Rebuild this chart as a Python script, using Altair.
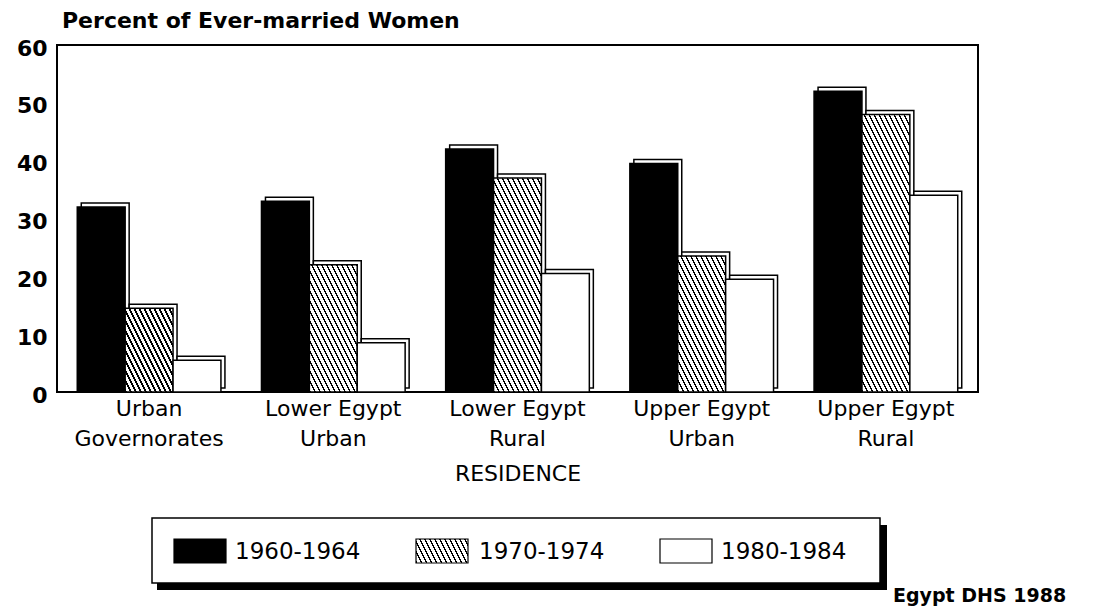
import altair as alt
import pandas as pd

# ---------------- data ----------------
categories = ["Urban|Governorates", "Lower Egypt|Urban", "Lower Egypt|Rural",
              "Upper Egypt|Urban", "Upper Egypt|Rural"]
series = ["1960-1964", "1970-1974", "1980-1984"]
v1960 = [32, 33, 42, 39.5, 52]
v1970 = [14.5, 22, 37, 23.5, 48]
v1980 = [5.5, 8.5, 20.5, 19.5, 34]
y_ticks = [0, 10, 20, 30, 40, 50, 60]
title_text = "Percent of Ever-married Women"
x_title = "RESIDENCE"
source_text = "Egypt DHS 1988"

rows = []
for s, vals in zip(series, [v1960, v1970, v1980]):
    for c, v in zip(categories, vals):
        rows.append({"category": c, "period": s, "value": v})
df = pd.DataFrame(rows)

# ---------------- layout ----------------
W, H = 921, 347
PI, PO = 0.22, 0.11
step = W / (len(categories) - PI + 2 * PO)
bw = step * (1 - PI)
barw = bw / 3
LIP = 4
FONT = "DejaVu Sans"


def hatch(w, h, period=5.0, frac=0.33, slope=0.5):
    L = w + slope * h
    lam = L / (w * w + (slope * h) ** 2)
    x2 = w * lam
    y2 = 1 - slope * h * lam
    n = L / period
    stops = []
    k = 0
    while k / n < 1:
        a = k / n
        b = min((k + frac) / n, 1)
        c = min((k + 1) / n, 1)
        stops += [{"offset": a, "color": "black"}, {"offset": b, "color": "black"},
                  {"offset": b, "color": "white"}, {"offset": c, "color": "white"}]
        k += 1
    return {"gradient": "linear", "x1": 0, "y1": 1, "x2": x2, "y2": y2, "stops": stops}


conds = [{"test": f"datum.period == '{series[0]}'", "value": "black"}]
for c, v in zip(categories, v1970):
    conds.append({"test": f"datum.period == '{series[1]}' && datum.category == '{c}'",
                  "value": hatch(barw, v * H / 60.0)})

x_enc = alt.X("category:N", sort=categories,
              scale=alt.Scale(paddingInner=PI, paddingOuter=PO),
              axis=alt.Axis(labelExpr="split(datum.label, '|')", labelAngle=0,
                            labelFont=FONT, labelFontSize=22, labelLineHeight=30,
                            labelPadding=6, labelColor="black",
                            ticks=False, domain=False, grid=False,
                            title=x_title, titleFont=FONT, titleFontSize=22,
                            titleFontWeight="normal", titleColor="black",
                            titlePadding=14))
y_enc = alt.Y("value:Q", scale=alt.Scale(domain=[0, 60], nice=False),
              axis=alt.Axis(values=y_ticks, labelFont=FONT, labelFontSize=22,
                            labelFontWeight="bold", labelColor="black",
                            labelPadding=10, labelOffset=3,
                            ticks=False, domain=False, grid=False, title=None))

base = alt.Chart(df).encode(x=x_enc, y=y_enc)

back = base.mark_bar(fill="white", stroke="black", strokeWidth=1.5,
                     yOffset=-LIP).encode(
    xOffset=alt.XOffset("period:N", sort=series,
                        scale=alt.Scale(range=[LIP, LIP + bw], paddingInner=0,
                                        paddingOuter=0)))

front = base.mark_bar(stroke="black", strokeWidth=1.5).encode(
    xOffset=alt.XOffset("period:N", sort=series,
                        scale=alt.Scale(range=[0, bw], paddingInner=0,
                                        paddingOuter=0)),
    fill=alt.FillValue(value="white", condition=conds))

one = pd.DataFrame({"k": [0]})

title_layer = alt.Chart(one).mark_text(
    text=title_text, font=FONT, fontSize=22, fontWeight="bold",
    align="left", baseline="middle", color="black").encode(
    x=alt.value(5), y=alt.value(-24))

source_layer = alt.Chart(one).mark_text(
    text=source_text, font=FONT, fontSize=19, fontWeight="bold",
    align="left", baseline="middle", color="black").encode(
    x=alt.value(836), y=alt.value(551))

shadow = alt.Chart(one).mark_rect(fill="black").encode(
    x=alt.value(100), x2=alt.value(830), y=alt.value(480), y2=alt.value(545))
box = alt.Chart(one).mark_rect(fill="white", stroke="black", strokeWidth=1.5).encode(
    x=alt.value(95), x2=alt.value(823), y=alt.value(473), y2=alt.value(538))

legend_layers = []
sym_x = [117, 359, 603]
txt_x = [178, 422, 664]
sym_fill = ["black", hatch(52, 24), "white"]
for s, sx, tx, f in zip(series, sym_x, txt_x, sym_fill):
    legend_layers.append(alt.Chart(one).mark_rect(fill=f, stroke="black", strokeWidth=1.2).encode(
        x=alt.value(sx), x2=alt.value(sx + 52), y=alt.value(494), y2=alt.value(518)))
    legend_layers.append(alt.Chart(one).mark_text(
        text=s, font=FONT, fontSize=23, align="left", baseline="middle",
        color="black").encode(x=alt.value(tx), y=alt.value(507)))

chart = alt.layer(back, front, title_layer, source_layer, shadow, box, *legend_layers).resolve_scale(
    xOffset="independent"
).properties(
    width=W, height=H,
    autosize=alt.AutoSizeParams(type="none"),
    padding={"left": 49, "top": 37, "right": 110, "bottom": 216},
).configure(background="white").configure_view(stroke="black", strokeWidth=2)

chart.save("out.html", embed_options={"renderer": "svg", "actions": False})
